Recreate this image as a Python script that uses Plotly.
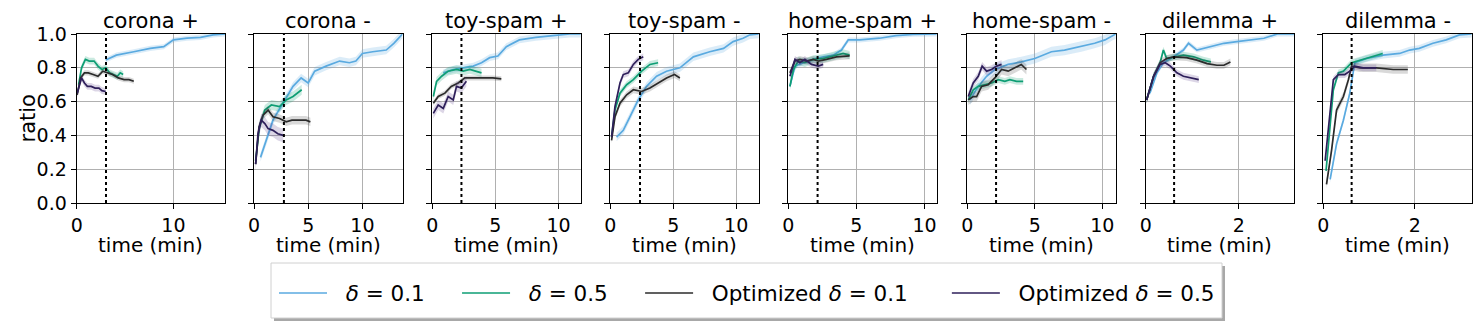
import plotly.graph_objects as go

panels = ["corona +", "corona -", "toy-spam +", "toy-spam -",
          "home-spam +", "home-spam -", "dilemma +", "dilemma -"]
x_max = [15.35, 13.7, 11.77, 11.8, 10.9, 11.0, 3.19, 3.25]
x_ticks = [[0, 10], [0, 5, 10], [0, 5, 10], [0, 5, 10],
           [0, 5, 10], [0, 5, 10], [0, 2], [0, 2]]
threshold_min = [3.03, 2.76, 2.31, 2.36, 2.15, 2.13, 0.61, 0.62]
y_ticks = [0.0, 0.2, 0.4, 0.6, 0.8, 1.0]

# delta = 0.1
t_d01 = [
    [3.0, 4.1, 5.9, 7.6, 9.0, 10.0, 11.4, 12.8, 14.1, 15.35],
    [0.6, 1.2, 1.75, 2.67, 3.6, 4.35, 5.0, 5.6, 6.65, 7.9, 8.8, 9.4, 10.0, 10.95, 12.2, 12.9, 13.7],
    [0.87, 1.66, 2.45, 3.24, 3.9, 4.55, 5.2, 5.87, 6.9, 8.2, 9.55, 10.9, 11.77],
    [0.5, 1.03, 1.56, 2.22, 2.88, 3.68, 4.47, 5.53, 6.6, 7.9, 9.0, 9.76, 10.55, 11.1, 11.8],
    [0.12, 0.49, 1.1, 1.83, 2.56, 3.3, 3.9, 4.4, 5.24, 6.7, 7.9, 9.15, 10.9],
    [0.2, 0.81, 1.43, 2.04, 3.03, 4.0, 5.0, 6.23, 7.2, 8.45, 9.43, 10.2, 10.8, 11.0],
    [0.09, 0.24, 0.38, 0.6, 0.81, 0.92, 1.1, 1.39, 1.68, 1.96, 2.25, 2.54, 2.83, 3.19],
    [0.15, 0.29, 0.44, 0.58, 0.69, 0.95, 1.31, 1.67, 1.89, 2.1, 2.4, 2.69, 2.98, 3.25],
]
r_d01 = [
    [0.846, 0.875, 0.895, 0.915, 0.925, 0.965, 0.975, 0.98, 0.995, 1.0],
    [0.27, 0.38, 0.49, 0.59, 0.69, 0.74, 0.71, 0.78, 0.81, 0.84, 0.83, 0.84, 0.885, 0.895, 0.905, 0.945, 1.0],
    [0.77, 0.79, 0.80, 0.81, 0.83, 0.86, 0.87, 0.925, 0.965, 0.98, 0.99, 1.0, 1.0],
    [0.39, 0.43, 0.51, 0.61, 0.69, 0.75, 0.78, 0.80, 0.865, 0.895, 0.915, 0.955, 0.975, 0.995, 1.0],
    [0.69, 0.81, 0.83, 0.85, 0.865, 0.875, 0.905, 0.965, 0.965, 0.975, 0.99, 0.998, 1.0],
    [0.61, 0.69, 0.75, 0.79, 0.82, 0.835, 0.855, 0.895, 0.905, 0.925, 0.945, 0.965, 0.995, 1.0],
    [0.65, 0.77, 0.83, 0.865, 0.905, 0.945, 0.905, 0.925, 0.945, 0.955, 0.965, 0.975, 1.0, 1.0],
    [0.14, 0.35, 0.49, 0.65, 0.83, 0.855, 0.875, 0.885, 0.905, 0.915, 0.945, 0.965, 0.995, 1.0],
]
band_d01 = [0.015, 0.025, 0.02, 0.025, 0.015, 0.03, 0.015, 0.02]

# delta = 0.5
t_d05 = [
    [0.2, 0.5, 0.9, 1.3, 1.8, 2.2, 2.6, 3.0, 3.4, 3.8, 4.2, 4.5, 4.8],
    [0.15, 0.5, 1.0, 1.6, 2.36, 2.97, 3.6, 4.0, 4.4],
    [0.08, 0.34, 0.74, 1.26, 1.92, 2.45, 2.97, 3.5, 3.9],
    [0.1, 0.37, 0.77, 1.3, 1.83, 2.49, 3.15, 3.8],
    [0.12, 0.37, 0.73, 1.22, 1.83, 2.56, 3.3, 4.02, 4.5],
    [0.07, 0.44, 0.81, 1.3, 1.8, 2.3, 2.78, 3.15, 3.65, 4.14],
    [0.02, 0.17, 0.31, 0.38, 0.45, 0.6, 0.81, 1.03, 1.24, 1.4],
    [0.06, 0.13, 0.22, 0.33, 0.44, 0.62, 0.8, 1.02, 1.3],
]
r_d05 = [
    [0.70, 0.80, 0.85, 0.84, 0.84, 0.81, 0.79, 0.80, 0.77, 0.76, 0.75, 0.77, 0.76],
    [0.25, 0.45, 0.55, 0.58, 0.57, 0.61, 0.63, 0.65, 0.67],
    [0.63, 0.72, 0.75, 0.78, 0.79, 0.78, 0.79, 0.78, 0.77],
    [0.39, 0.55, 0.65, 0.70, 0.73, 0.78, 0.82, 0.83],
    [0.69, 0.79, 0.84, 0.83, 0.85, 0.855, 0.87, 0.885, 0.875],
    [0.61, 0.67, 0.69, 0.70, 0.71, 0.73, 0.72, 0.73, 0.72, 0.72],
    [0.61, 0.75, 0.83, 0.905, 0.855, 0.865, 0.875, 0.865, 0.845, 0.835],
    [0.19, 0.41, 0.67, 0.77, 0.78, 0.83, 0.845, 0.865, 0.885],
]
band_d05 = [0.02, 0.03, 0.025, 0.02, 0.025, 0.02, 0.02, 0.02]

# optimized delta = 0.1
t_opt01 = [
    [0.05, 0.4, 0.8, 1.2, 1.7, 2.2, 2.7, 3.2, 3.7, 4.3, 4.9, 5.4, 5.9],
    [0.15, 0.46, 0.83, 1.3, 1.75, 2.36, 2.97, 3.5, 3.9, 4.4, 4.8, 5.2],
    [0.08, 0.47, 1.0, 1.5, 2.05, 2.58, 3.1, 4.0, 4.8, 5.47],
    [0.1, 0.37, 0.77, 1.3, 1.83, 2.49, 3.15, 3.8, 4.47, 5.1, 5.53],
    [0.12, 0.49, 0.85, 1.34, 1.83, 2.2, 2.8, 3.54, 4.5],
    [0.07, 0.44, 0.69, 1.06, 1.55, 2.04, 2.54, 3.03, 3.52, 4.0, 4.38],
    [0.02, 0.17, 0.31, 0.45, 0.6, 0.88, 1.1, 1.32, 1.53, 1.68, 1.82],
    [0.07, 0.18, 0.29, 0.44, 0.55, 0.62, 0.8, 1.16, 1.53, 1.85],
]
r_opt01 = [
    [0.64, 0.74, 0.77, 0.77, 0.76, 0.75, 0.78, 0.77, 0.76, 0.74, 0.73, 0.73, 0.72],
    [0.23, 0.45, 0.52, 0.55, 0.51, 0.50, 0.48, 0.49, 0.49, 0.49, 0.49, 0.48],
    [0.59, 0.63, 0.65, 0.69, 0.71, 0.74, 0.74, 0.74, 0.74, 0.735],
    [0.37, 0.51, 0.59, 0.64, 0.67, 0.66, 0.68, 0.71, 0.74, 0.76, 0.74],
    [0.77, 0.84, 0.85, 0.84, 0.85, 0.84, 0.85, 0.865, 0.87],
    [0.61, 0.63, 0.63, 0.69, 0.70, 0.74, 0.79, 0.78, 0.80, 0.82, 0.79],
    [0.61, 0.75, 0.83, 0.855, 0.865, 0.86, 0.845, 0.825, 0.815, 0.815, 0.835],
    [0.11, 0.31, 0.55, 0.63, 0.73, 0.81, 0.80, 0.80, 0.79, 0.79],
]
band_opt01 = [0.015, 0.025, 0.015, 0.02, 0.02, 0.03, 0.02, 0.025]

# optimized delta = 0.5
t_opt05 = [
    [0.05, 0.3, 0.5, 0.8, 1.1, 1.5, 1.9, 2.3, 2.6, 3.0],
    [0.15, 0.37, 0.67, 1.0, 1.3, 1.75, 2.2, 2.7],
    [0.08, 0.47, 0.87, 1.26, 1.66, 1.92, 2.3, 2.7],
    [0.1, 0.37, 0.77, 1.03, 1.43, 1.83, 2.22, 2.62],
    [0.12, 0.49, 0.85, 1.22, 1.7, 2.2, 2.56],
    [0.07, 0.44, 0.81, 1.1, 1.43, 1.8, 2.17, 2.54],
    [0.02, 0.17, 0.31, 0.42, 0.53, 0.67, 0.81, 0.96, 1.14],
    [0.04, 0.13, 0.22, 0.33, 0.47, 0.58, 0.69, 0.87, 1.16],
]
r_opt05 = [
    [0.65, 0.70, 0.74, 0.71, 0.69, 0.69, 0.68, 0.68, 0.665, 0.66],
    [0.23, 0.41, 0.49, 0.47, 0.44, 0.43, 0.41, 0.40],
    [0.53, 0.58, 0.56, 0.63, 0.61, 0.69, 0.68, 0.72],
    [0.39, 0.57, 0.71, 0.76, 0.77, 0.82, 0.85, 0.865],
    [0.75, 0.85, 0.83, 0.85, 0.82, 0.81, 0.82],
    [0.63, 0.71, 0.75, 0.81, 0.78, 0.79, 0.81, 0.82],
    [0.61, 0.75, 0.82, 0.83, 0.81, 0.77, 0.75, 0.74, 0.73],
    [0.25, 0.51, 0.73, 0.76, 0.76, 0.78, 0.81, 0.80, 0.80],
]
band_opt05 = [0.02, 0.04, 0.03, 0.02, 0.02, 0.025, 0.02, 0.02]

nb = "\u00a0"
series = [
    (nb * 2 + "<i>δ</i> = 0.1" + nb * 4, "#5AAAE0", "rgba(90,170,224,0.22)", t_d01, r_d01, band_d01),
    (nb * 2 + "<i>δ</i> = 0.5" + nb * 4, "#0E9E74", "rgba(14,158,116,0.22)", t_d05, r_d05, band_d05),
    (nb * 2 + "Optimized <i>δ</i> = 0.1" + nb * 5, "#2B2B2B", "rgba(43,43,43,0.18)", t_opt01, r_opt01, band_opt01),
    (nb * 2 + "Optimized <i>δ</i> = 0.5", "#2E1F5A", "rgba(80,50,130,0.2)", t_opt05, r_opt05, band_opt05),
]

W, H = 1481, 326
OFF = 8  # page body margin shifts the figure by 8px
left_px = [76.7, 254.0, 432.3, 610.3, 788.3, 967.3, 1145.7, 1323.3]
panel_w = 148.5
top_px, bottom_px = 34, 203
font = "DejaVu Sans"


def px_x(v):
    return (v - OFF) / W


def px_y(v):
    return 1 - (v - OFF) / H


fig = go.Figure()
layout = {}
annotations = []
shapes = []

for i, name in enumerate(panels):
    ax = "" if i == 0 else str(i + 1)
    xref, yref = "x" + ax, "y" + ax
    for k, (label, color, fillc, ts, rs, bands) in enumerate(series):
        t, r, w = ts[i], rs[i], bands[i]
        upper = [v + w for v in r]
        lower = [v - w for v in r]
        fig.add_trace(go.Scatter(
            x=t + t[::-1], y=upper + lower[::-1], fill="toself",
            fillcolor=fillc, line=dict(width=0), mode="lines",
            hoverinfo="skip", showlegend=False, xaxis=xref, yaxis=yref,
        ))
        fig.add_trace(go.Scatter(
            x=t, y=r, mode="lines", name=label,
            line=dict(color=color, width=1.7),
            showlegend=(i == 0), legendgroup=label,
            xaxis=xref, yaxis=yref,
        ))

    layout["xaxis" + ax] = dict(
        domain=[px_x(left_px[i]), px_x(left_px[i] + panel_w)],
        range=[0, x_max[i]], anchor=yref, automargin=False,
        tickvals=x_ticks[i], ticks="outside", ticklen=5, tickcolor="black",
        showline=True, linecolor="black", linewidth=1.2, mirror=True,
        showgrid=True, gridcolor="#b0b0b0", gridwidth=0.8, zeroline=False,
        tickfont=dict(size=19, color="black", family=font),
    )
    layout["yaxis" + ax] = dict(
        domain=[px_y(bottom_px), px_y(top_px)], range=[0, 1], anchor=xref,
        automargin=False,
        tickvals=y_ticks, tickformat=".1f", showticklabels=(i == 0),
        ticks="outside", ticklen=5, tickcolor="black",
        showline=True, linecolor="black", linewidth=1.2, mirror=True,
        showgrid=True, gridcolor="#b0b0b0", gridwidth=0.8, zeroline=False,
        tickfont=dict(size=19, color="black", family=font),
    )
    shapes.append(dict(
        type="line", xref=xref, yref=yref + " domain",
        x0=threshold_min[i], x1=threshold_min[i], y0=0, y1=1,
        line=dict(color="black", width=2, dash="dot"),
    ))
    cx = px_x(left_px[i] + panel_w / 2)
    annotations.append(dict(
        text=name, x=cx, y=px_y(21), xref="paper", yref="paper",
        showarrow=False, xanchor="center", yanchor="middle",
        font=dict(size=21, color="black", family=font),
    ))
    annotations.append(dict(
        text="time (min)", x=cx, y=px_y(245), xref="paper", yref="paper",
        showarrow=False, xanchor="center", yanchor="middle",
        font=dict(size=20, color="black", family=font),
    ))

annotations.append(dict(
    text="ratio", x=px_x(28), y=px_y(118.5), xref="paper", yref="paper",
    showarrow=False, xanchor="center", yanchor="middle", textangle=-90,
    font=dict(size=21, color="black", family=font),
))

# legend frame with drop shadow
shapes.append(dict(
    type="rect", xref="paper", yref="paper", layer="below",
    x0=px_x(274), x1=px_x(1225), y0=px_y(321), y1=px_y(266),
    fillcolor="#a8a8a8", line=dict(width=0),
))
shapes.append(dict(
    type="rect", xref="paper", yref="paper", layer="below",
    x0=px_x(271), x1=px_x(1222), y0=px_y(318), y1=px_y(263),
    fillcolor="white", line=dict(color="#d0d0d0", width=1),
))

fig.update_layout(
    width=W, height=H,
    margin=dict(l=0, r=0, t=0, b=0, autoexpand=False),
    paper_bgcolor="white", plot_bgcolor="white",
    font=dict(family=font, color="black"),
    annotations=annotations, shapes=shapes,
    showlegend=True,
    legend=dict(
        orientation="h", x=px_x(274), y=px_y(293),
        xanchor="left", yanchor="middle",
        bgcolor="rgba(0,0,0,0)", borderwidth=0,
        font=dict(size=21.5, color="black", family=font),
        itemwidth=48,
    ),
    **layout,
)

fig.write_html("out.html")
